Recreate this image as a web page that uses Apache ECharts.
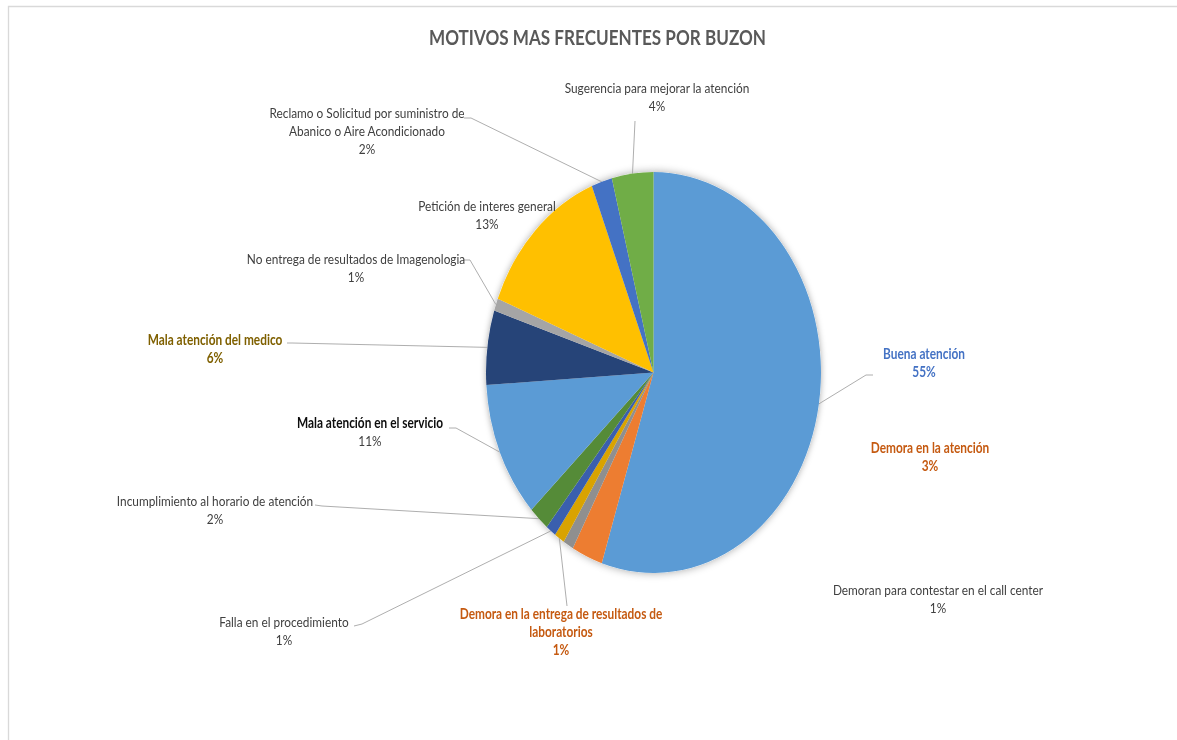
<!DOCTYPE html>
<html>
<head>
<meta charset="utf-8">
<script src="https://cdn.jsdelivr.net/npm/echarts@6.0.0/dist/echarts.min.js"></script>
<style>
html,body{margin:0;padding:0;background:#fff;overflow:hidden;width:1177px;height:740px;}
#wrap{width:1177px;height:740px;overflow:hidden;position:relative;background:#fff;}
#main{position:absolute;left:0;top:0;transform-origin:0 0;}
</style>
</head>
<body>
<div id="wrap"><div id="main"></div></div>
<script>
// ---------------- data ----------------
const chartTitle = 'MOTIVOS MAS FRECUENTES POR BUZON';
const categories = [
  'Buena atención',
  'Demora en la atención',
  'Demoran para contestar en el call center',
  'Demora en la entrega de resultados de\nlaboratorios',
  'Falla en el procedimiento',
  'Incumplimiento al horario de atención',
  'Mala atención en el servicio',
  'Mala atención del medico',
  'No entrega de resultados de Imagenologia',
  'Petición de interes general',
  'Reclamo o Solicitud por suministro de\nAbanico o Aire Acondicionado',
  'Sugerencia para mejorar la atención'
];
const values = [55, 3, 1, 1, 1, 2, 11, 6, 1, 13, 2, 4];

// ---------------- styles / layout ----------------
const sliceColors = ['#5B9BD5', '#ED7D31', '#8F8F8F', '#D9A300', '#3A5FAE', '#558B38',
                     '#5B9BD5', '#264478', '#A5A5A5', '#FFC000', '#4472C4', '#70AD47'];
// label text style per slice: [name colour, name weight, value colour, value weight]
const labelLook = [
  ['#4472C4', 'bold', '#4472C4', 'bold'],
  ['#C55A11', 'bold', '#C55A11', 'bold'],
  ['#404040', 'normal', '#404040', 'normal'],
  ['#C55A11', 'bold', '#C55A11', 'bold'],
  ['#404040', 'normal', '#404040', 'normal'],
  ['#404040', 'normal', '#404040', 'normal'],
  ['#0D0D0D', 'bold', '#404040', 'normal'],
  ['#7F6000', 'bold', '#7F6000', 'bold'],
  ['#404040', 'normal', '#404040', 'normal'],
  ['#404040', 'normal', '#404040', 'normal'],
  ['#404040', 'normal', '#404040', 'normal'],
  ['#404040', 'normal', '#404040', 'normal']
];
// picture was compressed horizontally; draw at full width and compress the same way
const SX = 0.8354;
const W = Math.round(1177 / SX), H = 740;
const CX = 653.5, CY = 372.5, R = 200.5;     // pie centre / radius (reference pixels)
const TITLE_X = 597.5;
// label anchor: [centre x, first-line centre y] in reference pixels
const labelPos = [
  [924, 354], [930, 448], [938, 590], [561, 614], [284, 622], [215, 501],
  [370, 423], [215, 340], [356, 259], [487, 206], [367, 113], [657, 88]
];
// leader line points after the slice anchor (reference pixels), null = no leader
const leaders = [
  [[866, 375], [873, 375]],
  null,
  null,
  [[567, 606]],
  [[362, 624], [354, 626]],
  [[322, 506], [315, 505]],
  [[456, 428], [449, 428]],
  [[292, 343], [287, 343]],
  [[470, 260], [463, 260]],
  null,
  [[471, 118], [464, 118]],
  [[635, 121]]
];
const FONT = 'Lato, "Open Sans", sans-serif';
const FS = 14.2, LH = 18;

const el = document.getElementById('main');
el.style.width = W + 'px';
el.style.height = H + 'px';
el.style.transform = 'scaleX(' + SX + ')';
const chart = echarts.init(el, null, { renderer: 'svg', width: W, height: H });

function rich(i) {
  const L = labelLook[i];
  return {
    n: { color: L[0], fontWeight: L[1], fontFamily: FONT, fontSize: FS, lineHeight: LH },
    v: { color: L[2], fontWeight: L[3], fontFamily: FONT, fontSize: FS, lineHeight: LH }
  };
}

const pieData = categories.map((name, i) => ({
  name: name,
  value: values[i],
  label: { rich: rich(i) },
  labelLine: { show: !!leaders[i] }
}));

const option = {
  animation: false,
  backgroundColor: '#ffffff',
  color: sliceColors,
  title: {
    text: chartTitle,
    left: TITLE_X / SX,
    top: 24,
    padding: 0,
    textAlign: 'center',
    textStyle: { fontFamily: FONT, fontSize: 20.5, fontWeight: 'bold', color: '#595959', lineHeight: 26 }
  },
  graphic: [{
    type: 'rect', silent: true, z: -10,
    shape: { x: 8.5 / SX, y: 6.5, width: 4000, height: 4000 },
    style: { fill: 'none', stroke: '#D9D9D9', lineWidth: 1.6 }
  }],
  series: [
    {
      // soft shadow under the pie
      type: 'pie', silent: true, z: 1,
      center: [CX / SX, CY], radius: [0, R],
      startAngle: 90, clockwise: true,
      data: values.map(v => ({ value: v })),
      label: { show: false }, labelLine: { show: false },
      itemStyle: { color: '#ffffff', shadowBlur: 8, shadowColor: 'rgba(0,0,0,0.35)' }
    },
    {
      type: 'pie', z: 3,
      center: [CX / SX, CY], radius: [0, R],
      startAngle: 90, clockwise: true,
      avoidLabelOverlap: false,
      itemStyle: { borderWidth: 0 },
      emphasis: { disabled: true },
      data: pieData,
      label: {
        show: true, position: 'outside',
        fontFamily: FONT, fontSize: FS, lineHeight: LH, color: '#404040',
        formatter: p => '{n|' + p.name + '}\n{v|' + Math.round(p.percent) + '%}'
      },
      labelLine: { show: true, length: 10, length2: 10, smooth: false,
        lineStyle: { color: '#A6A6A6', width: 1 } },
      labelLayout: function (params) {
        const i = params.dataIndex;
        const P = labelPos[i];
        const out = { x: P[0] / SX, y: P[1] - LH / 2, align: 'center', verticalAlign: 'top' };
        const g = leaders[i];
        if (g && params.labelLinePoints) {
          const a = params.labelLinePoints[0];
          out.labelLinePoints = [[a[0], a[1]]].concat(g.map(p => [p[0] / SX, p[1]]));
        }
        return out;
      }
    }
  ]
};
chart.setOption(option);
</script>
</body>
</html>
